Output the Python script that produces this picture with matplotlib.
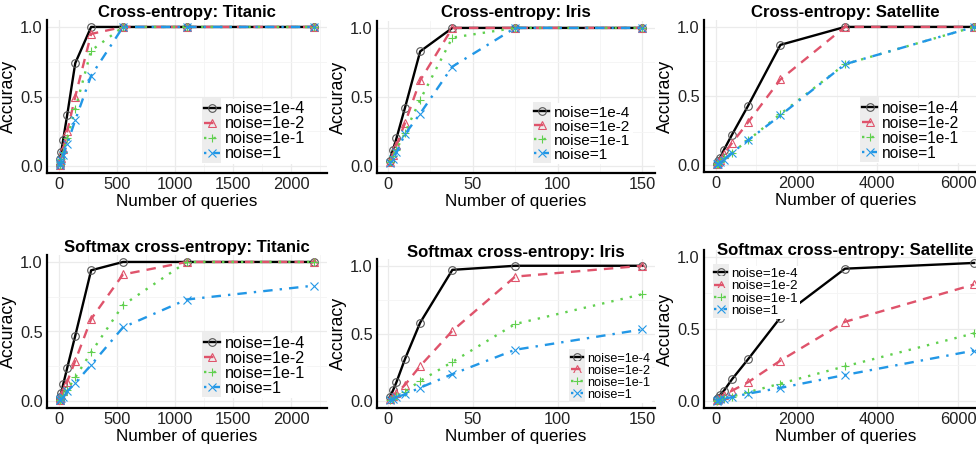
import matplotlib
matplotlib.use("Agg")
import matplotlib.pyplot as plt
from matplotlib.legend_handler import HandlerLine2D
from matplotlib.patches import Rectangle
from matplotlib.ticker import MultipleLocator

plt.rcParams['font.family'] = ['Liberation Sans', 'DejaVu Sans']

# query counts per dataset
x_titanic = [4, 9, 17, 34, 69, 138, 275, 550, 1100, 2200]
x_iris = [1, 3, 5, 10, 19, 38, 75, 150]
x_sat = [25, 50, 100, 200, 400, 800, 1600, 3200, 6400]

labels = ["noise=1e-4", "noise=1e-2", "noise=1e-1", "noise=1"]

# cross-entropy
ce_titanic = [
    [0.01, 0.05, 0.10, 0.19, 0.37, 0.74, 1.00, 1.00, 1.00, 1.00],
    [0.01, 0.03, 0.06, 0.12, 0.25, 0.50, 0.95, 1.00, 1.00, 1.00],
    [0.01, 0.03, 0.05, 0.10, 0.20, 0.41, 0.83, 1.00, 1.00, 1.00],
    [0.005, 0.02, 0.04, 0.08, 0.16, 0.33, 0.65, 1.00, 1.00, 1.00],
]
ce_iris = [
    [0.04, 0.12, 0.20, 0.42, 0.83, 1.00, 1.00, 1.00],
    [0.03, 0.08, 0.15, 0.31, 0.62, 1.00, 1.00, 1.00],
    [0.03, 0.07, 0.12, 0.24, 0.48, 0.93, 1.00, 1.00],
    [0.02, 0.05, 0.10, 0.23, 0.38, 0.72, 1.00, 1.00],
]
ce_sat = [
    [0.01, 0.03, 0.05, 0.11, 0.22, 0.43, 0.87, 1.00, 1.00],
    [0.01, 0.02, 0.04, 0.08, 0.16, 0.31, 0.62, 1.00, 1.00],
    [0.005, 0.01, 0.02, 0.05, 0.09, 0.18, 0.37, 0.73, 1.00],
    [0.005, 0.01, 0.02, 0.04, 0.09, 0.18, 0.36, 0.73, 1.00],
]

# softmax cross-entropy
sm_titanic = [
    [0.01, 0.03, 0.06, 0.12, 0.24, 0.47, 0.94, 1.00, 1.00, 1.00],
    [0.01, 0.02, 0.04, 0.07, 0.14, 0.29, 0.59, 0.91, 1.00, 1.00],
    [0.005, 0.01, 0.02, 0.04, 0.08, 0.17, 0.35, 0.69, 1.00, 1.00],
    [0.005, 0.01, 0.02, 0.03, 0.07, 0.13, 0.26, 0.53, 0.73, 0.83],
]
sm_iris = [
    [0.03, 0.08, 0.14, 0.31, 0.58, 0.97, 1.00, 1.00],
    [0.02, 0.04, 0.06, 0.12, 0.26, 0.52, 0.92, 1.00],
    [0.01, 0.02, 0.04, 0.07, 0.15, 0.29, 0.57, 0.79],
    [0.01, 0.02, 0.03, 0.05, 0.10, 0.20, 0.38, 0.53],
]
sm_sat = [
    [0.01, 0.02, 0.04, 0.07, 0.15, 0.29, 0.58, 0.92, 0.96],
    [0.005, 0.01, 0.02, 0.04, 0.07, 0.13, 0.28, 0.55, 0.81],
    [0.002, 0.005, 0.01, 0.02, 0.03, 0.06, 0.12, 0.24, 0.47],
    [0.002, 0.005, 0.01, 0.015, 0.025, 0.05, 0.09, 0.18, 0.35],
]

colors = ["#000000", "#DF536B", "#61D04F", "#2297E6"]
markers = ["o", "^", "+", "x"]
dashes = [None, (4, 3), (1, 3), (1, 3, 4, 3)]

W, H = 976, 449


class KeyHandler(HandlerLine2D):
    # grey key background like ggplot
    def create_artists(self, legend, orig_handle, xdescent, ydescent,
                       width, height, fontsize, trans):
        arts = super().create_artists(legend, orig_handle, xdescent, ydescent,
                                      width, height, fontsize, trans)
        bg = Rectangle((-xdescent - 1, -ydescent - 3), width + 2, height + 6,
                       facecolor="#EDEDED", edgecolor="none", transform=trans)
        return [bg] + arts


# title, x, series, ax px box (left, right, top, bottom), xmajor, legend loc/anchor, legend fontsize, title y px
panels = [
    ("Cross-entropy: Titanic", x_titanic, ce_titanic, (47, 327, 20, 173), 500,
     ("lower right", (0.93, 0.06)), 11.6, 13),
    ("Cross-entropy: Iris", x_iris, ce_iris, (377, 655, 21, 173), 50,
     ("lower right", (0.92, 0.06)), 11.1, 13),
    ("Cross-entropy: Satellite", x_sat, ce_sat, (704, 987, 20, 172), 2000,
     ("lower right", (0.91, 0.06)), 11.2, 13),
    ("Softmax cross-entropy: Titanic", x_titanic, sm_titanic, (47, 327, 255, 408), 500,
     ("lower right", (0.93, 0.065)), 11.6, 248),
    ("Softmax cross-entropy: Iris", x_iris, sm_iris, (377, 655, 259, 408), 50,
     ("lower right", (0.99, 0.035)), 9.1, 252),
    ("Softmax cross-entropy: Satellite", x_sat, sm_sat, (704, 987, 250, 408), 2000,
     ("upper left", (0.028, 0.9)), 9.6, 250),
]

fig = plt.figure(figsize=(W / 100, H / 100), dpi=100)

for title, xs, series, box, xmaj, (loc, anchor), lfs, ty in panels:
    l, r, t, b = box
    ax = fig.add_axes([l / W, 1 - b / H, (r - l) / W, (b - t) / H])
    for i in range(4):
        line, = ax.plot(xs, series[i], color=colors[i], lw=1.7,
                        marker=markers[i], ms=5.5, mfc="none",
                        mec=colors[i] if i else "#555555", mew=0.8,
                        label=labels[i])
        if dashes[i]:
            line.set_dashes(dashes[i])
    span = xs[-1] - xs[0]
    ax.set_xlim(xs[0] - 0.05 * span, xs[-1] + 0.05 * span)
    ax.set_ylim(-0.05, 1.05)
    ax.xaxis.set_major_locator(MultipleLocator(xmaj))
    ax.xaxis.set_minor_locator(MultipleLocator(xmaj / 2))
    ax.yaxis.set_major_locator(MultipleLocator(0.5))
    ax.yaxis.set_minor_locator(MultipleLocator(0.25))
    ax.grid(which="major", color="#EBEBEB", lw=0.9)
    ax.grid(which="minor", color="#F4F4F4", lw=0.6)
    ax.set_axisbelow(True)
    for s in ["top", "right"]:
        ax.spines[s].set_visible(False)
    for s in ["left", "bottom"]:
        ax.spines[s].set_linewidth(1.6)
    ax.tick_params(which="both", length=0, labelsize=11.8, pad=3, colors="#222222")
    ax.set_xlabel("Number of queries", fontsize=12.3, labelpad=1)
    ax.set_ylabel("Accuracy", fontsize=12.8, labelpad=2)
    fig.text((l + r) / 2 / W, 1 - ty / H, title, ha="center", va="center",
             fontsize=12.1, fontweight="bold")
    ax.legend(loc=loc, bbox_to_anchor=anchor, fontsize=lfs,
              frameon=True, facecolor="white", edgecolor="none",
              framealpha=1, fancybox=False, borderpad=0.15,
              labelspacing=0.0, handlelength=1.0, handletextpad=0.3,
              borderaxespad=0.0,
              handler_map={plt.Line2D: KeyHandler()})

fig.savefig("out.png", dpi=100)
